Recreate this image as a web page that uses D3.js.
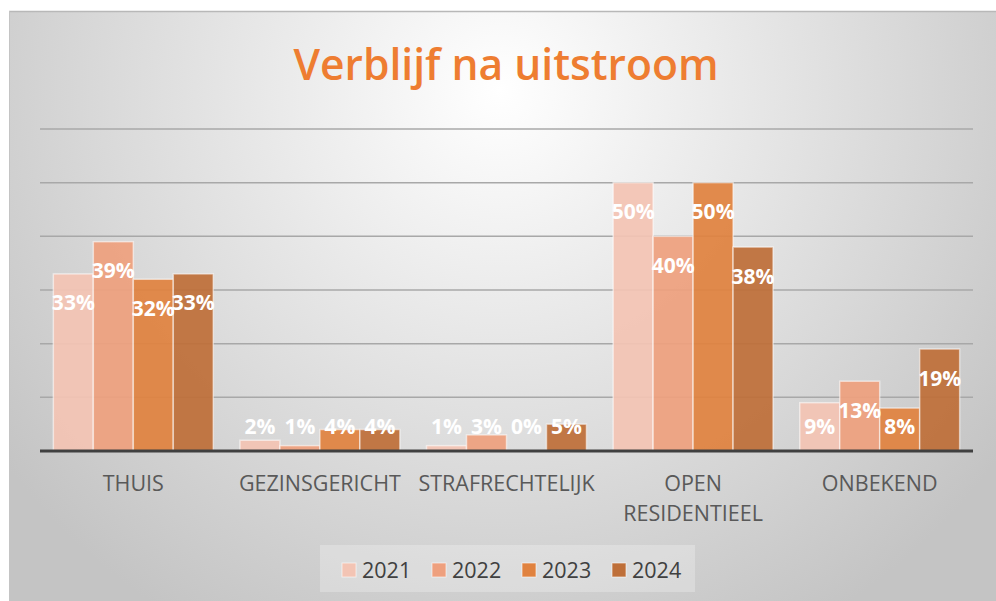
<!DOCTYPE html>
<html>
<head>
<meta charset="utf-8">
<script src="https://cdn.jsdelivr.net/npm/d3@7"></script>
<style>
  html, body { margin: 0; padding: 0; background: #ffffff; }
  svg { display: block; }
</style>
</head>
<body>
<svg id="chart" width="996" height="601"></svg>
<script>
// ---- data ----
const categories = ["THUIS", "GEZINSGERICHT", "STRAFRECHTELIJK", "OPEN RESIDENTIEEL", "ONBEKEND"];
const years = ["2021", "2022", "2023", "2024"];
const values2021 = [33, 2, 1, 50, 9];
const values2022 = [39, 1, 3, 40, 13];
const values2023 = [32, 4, 0, 50, 8];
const values2024 = [33, 4, 5, 38, 19];
const seriesValues = [values2021, values2022, values2023, values2024];
const yTicks = [0, 10, 20, 30, 40, 50, 60];
const colors = ["#F3C4B4", "#EEA07E", "#E0823F", "#BE6F39"];

const svg = d3.select("#chart");
const W = 996, H = 601;

// background
const defs = svg.append("defs");
const rg = defs.append("radialGradient").attr("id", "bg")
  .attr("gradientUnits", "userSpaceOnUse")
  .attr("cx", 500).attr("cy", 90).attr("r", 620);
rg.append("stop").attr("offset", "0%").attr("stop-color", "#ffffff");
rg.append("stop").attr("offset", "100%").attr("stop-color", "#c4c4c4");

svg.append("rect").attr("x", 9).attr("y", 11).attr("width", W - 9).attr("height", H - 11)
  .attr("fill", "url(#bg)");
svg.append("line").attr("x1", 9).attr("x2", W).attr("y1", 11.5).attr("y2", 11.5)
  .attr("stroke", "#b8b8b8").attr("stroke-width", 1.5);
svg.append("line").attr("x1", 9.5).attr("x2", 9.5).attr("y1", 11).attr("y2", H)
  .attr("stroke", "#c4c4c4").attr("stroke-width", 1);

// title
svg.append("text").attr("x", 506).attr("y", 80)
  .attr("text-anchor", "middle")
  .attr("font-family", "'Open Sans', sans-serif")
  .attr("font-weight", 600).attr("font-size", 44)
  .attr("textLength", 425).attr("lengthAdjust", "spacingAndGlyphs")
  .attr("fill", "#EE7D31")
  .text("Verblijf na uitstroom");

// scales
const plotLeft = 40, plotRight = 973, plotTop = 129, plotBottom = 451;
const x0 = d3.scaleBand().domain(categories).range([plotLeft, plotRight]).paddingInner(0.143).paddingOuter(0.0715);
const x1 = d3.scaleBand().domain(years).range([0, x0.bandwidth()]).padding(0);
const y = d3.scaleLinear().domain([0, 60]).range([plotBottom, plotTop]);

// gridlines
svg.append("g").selectAll("line").data(yTicks.filter(t => t > 0)).join("line")
  .attr("x1", plotLeft).attr("x2", plotRight)
  .attr("y1", d => y(d)).attr("y2", d => y(d))
  .attr("stroke", "#a8a8a8").attr("stroke-width", 1.5);

// bars
const groups = svg.append("g").selectAll("g").data(categories).join("g")
  .attr("transform", d => `translate(${x0(d)},0)`);

groups.each(function(cat, ci) {
  const g = d3.select(this);
  years.forEach((yr, si) => {
    const v = seriesValues[si][ci];
    g.append("rect")
      .attr("x", x1(yr)).attr("width", x1.bandwidth())
      .attr("y", y(v)).attr("height", plotBottom - y(v))
      .attr("fill", colors[si]).attr("fill-opacity", 0.93)
      .attr("stroke", "#ffffff").attr("stroke-opacity", 0.55).attr("stroke-width", 1.5);
  });
});

// baseline
svg.append("line").attr("x1", plotLeft).attr("x2", plotRight)
  .attr("y1", plotBottom).attr("y2", plotBottom)
  .attr("stroke", "#404040").attr("stroke-width", 3);

// labels
groups.each(function(cat, ci) {
  const g = d3.select(this);
  years.forEach((yr, si) => {
    const v = seriesValues[si][ci];
    const cy = Math.min(y(v) + 29, 426);
    g.append("text")
      .attr("x", x1(yr) + x1.bandwidth() / 2).attr("y", cy)
      .attr("dy", "0.36em")
      .attr("text-anchor", "middle")
      .attr("font-family", "'Open Sans', sans-serif")
      .attr("font-weight", 700).attr("font-size", 21)
      .attr("fill", "#ffffff")
      .text(v + "%");
  });
});

// category axis labels
const axisG = svg.append("g");
categories.forEach(cat => {
  const words = cat === "OPEN RESIDENTIEEL" ? ["OPEN", "RESIDENTIEEL"] : [cat];
  const t = axisG.append("text")
    .attr("x", x0(cat) + x0.bandwidth() / 2).attr("y", 491)
    .attr("text-anchor", "middle")
    .attr("font-family", "'Open Sans', sans-serif")
    .attr("font-size", 21.5).attr("fill", "#595959");
  words.forEach((w, i) => {
    t.append("tspan").attr("x", x0(cat) + x0.bandwidth() / 2).attr("dy", i === 0 ? 0 : 30).text(w);
  });
});

// legend
svg.append("rect").attr("x", 320).attr("y", 545).attr("width", 375).attr("height", 47)
  .attr("fill", "#ffffff").attr("fill-opacity", 0.25);
const legendX = [342, 432, 522, 612];
years.forEach((yr, i) => {
  svg.append("rect").attr("x", legendX[i]).attr("y", 563).attr("width", 14).attr("height", 14)
    .attr("fill", colors[i]).attr("stroke", "#ffffff").attr("stroke-opacity", 0.6);
  svg.append("text").attr("x", legendX[i] + 20).attr("y", 577.5)
    .attr("font-family", "'Open Sans', sans-serif")
    .attr("font-size", 21.5).attr("fill", "#404040")
    .text(yr);
});
</script>
</body>
</html>
